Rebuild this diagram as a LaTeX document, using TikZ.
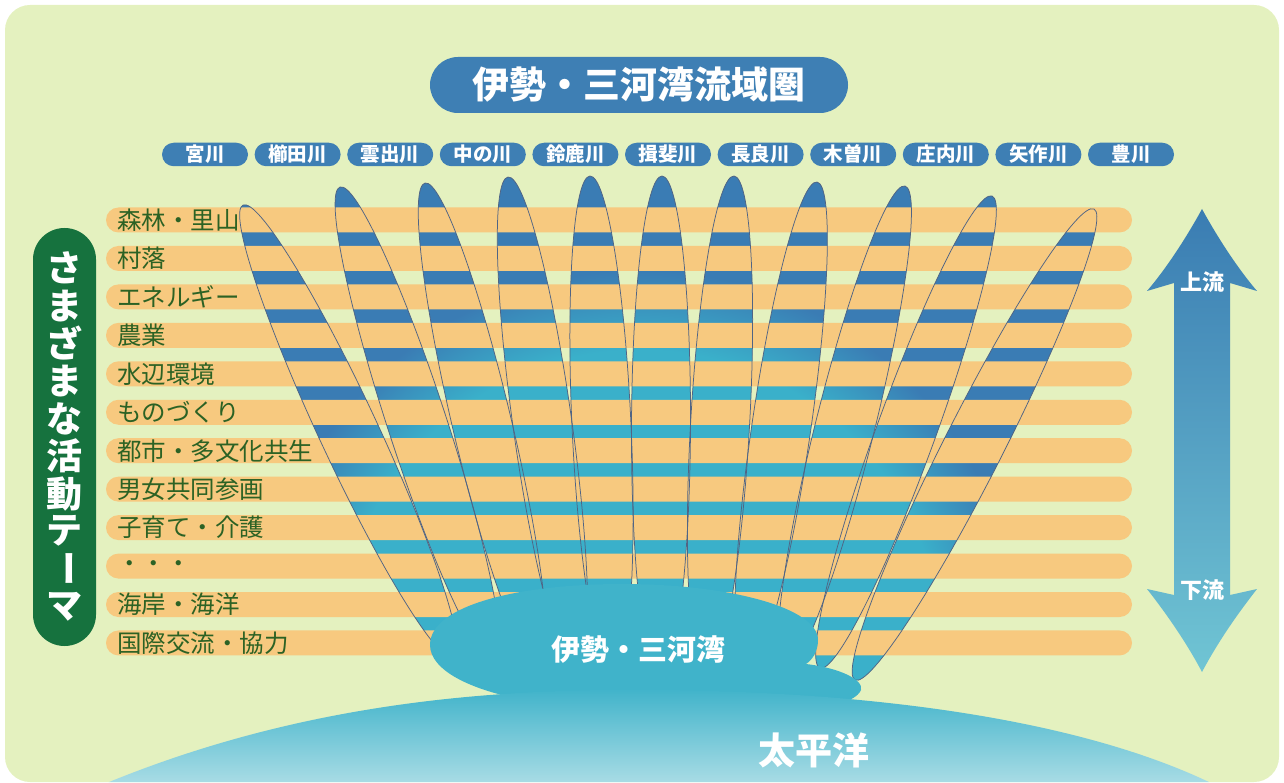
\documentclass[tikz,border=0pt]{standalone}
\usepackage{fontspec}
\setmainfont{Noto Sans CJK JP}
\usetikzlibrary{calc}

\definecolor{bggreen}{RGB}{228,241,191}
\definecolor{bandorange}{RGB}{247,201,127}
\definecolor{pillblue}{RGB}{62,127,180}
\definecolor{leafblue}{RGB}{58,124,180}
\definecolor{leafteal}{RGB}{58,176,202}
\definecolor{leafline}{RGB}{80,100,132}
\definecolor{themegreen}{RGB}{22,114,62}
\definecolor{labelgreen}{RGB}{44,98,36}
\definecolor{bayteal}{RGB}{64,179,202}
\definecolor{seabottom}{RGB}{176,223,231}
\definecolor{arrowtop}{RGB}{58,124,178}
\definecolor{arrowbottom}{RGB}{112,197,212}

\pgfdeclareradialshading{leafshade}{\pgfpoint{0bp}{0bp}}{color(0bp)=(leafteal); color(15bp)=(leafteal); color(19bp)=(leafblue); color(50bp)=(leafblue)}

\newcommand\leaflist{243/205/454/658,340/187/495/662,425/183/540/669,508/177/577/672,590/176/613/675,662/176/660/676,734/176/706/675,817/182/745/677,905/186/784/671,992/196/820/668,1094/209/855/680}

\begin{document}
\begin{tikzpicture}
  [x=1pt,y=-1pt,
   band/.style={fill=bandorange,rounded corners=12.5pt},
   theme/.style={anchor=west,inner sep=0pt,text=labelgreen,font=\fontsize{24.5}{24.5}\selectfont},
   river/.style={fill=pillblue,rounded corners=11.75pt,minimum width=86pt,minimum height=23.5pt,inner sep=0pt,text=white,font=\bfseries\fontsize{19.5}{19.5}\selectfont},
   leaf/.style={draw=leafline,line width=0.75pt},
   white label/.style={inner sep=0pt,text=white,font=\bfseries\fontsize{#1}{#1}\selectfont}]

  \useasboundingbox (0,0) rectangle (1284,783);
  \fill[bggreen,rounded corners=25pt] (5,5) rectangle (1279,782);

  \foreach \tx/\ty/\ex/\ey in \leaflist {
    \pgfmathsetmacro\halflen{veclen(\ex-\tx,\ey-\ty)/2}
    \pgfmathsetmacro\tilt{atan2(\ty-\ey,\ex-\tx)}
    \begin{scope}
      \clip[shift={($(\tx,\ty)!.5!(\ex,\ey)$)},rotate=\tilt] (0,0) ellipse [x radius=\halflen,y radius=29.5];
      \shade[shading=leafshade] (140,150) rectangle (1140,1150);
    \end{scope}
  }

  \foreach \t [count=\i from 0] in {森林・里山,村落,エネルギー,農業,水辺環境,ものづくり,都市・多文化共生,男女共同参画,子育て・介護,・・・,海岸・海洋,国際交流・協力} {
    \pgfmathsetmacro\yy{220+38.45*\i}
    \fill[band] (106,\yy-12.5) rectangle (1132,\yy+12.5);
    \node[theme] (t\i) at (117,\yy) {\t};
  }

  \foreach \tx/\ty/\ex/\ey in \leaflist {
    \pgfmathsetmacro\halflen{veclen(\ex-\tx,\ey-\ty)/2}
    \pgfmathsetmacro\tilt{atan2(\ty-\ey,\ex-\tx)}
    \draw[leaf,shift={($(\tx,\ty)!.5!(\ex,\ey)$)},rotate=\tilt] (0,0) ellipse [x radius=\halflen,y radius=29.5];
  }

  \fill[bayteal] (525,700) .. controls (470,690) and (430,670) .. (430,645) .. controls (430,605) and (520,584) .. (622,584)
    .. controls (730,584) and (818,608) .. (818,640) .. controls (818,652) and (812,660) .. (806,664)
    .. controls (840,668) and (864,680) .. (861,690) .. controls (858,697) and (848,701) .. (838,705) -- cycle;
  \begin{scope}
    \clip[rounded corners=25pt] (5,5) rectangle (1279,782);
    \shade[top color=bayteal,bottom color=seabottom] (90,790) .. controls (300,700) and (500,688) .. (665,690)
      .. controls (900,693) and (1100,725) .. (1225,790) -- cycle;
  \end{scope}
  \node[white label=29] (bay) at (638,650) {伊勢・三河湾};
  \node[white label=37] (ocean) at (814,750) {太平洋};

  \node[fill=themegreen,rounded corners=31.5pt,minimum width=63pt,minimum height=418pt,inner sep=0pt] (themebar) at (64.5,437) {};
  \foreach \c/\r [count=\i from 0] in {さ/0,ま/0,ざ/0,ま/0,な/0,活/0,動/0,テ/0,ー/-90,マ/0}
    \node[white label=36,rotate=\r] (v\i) at (64.5,268+37.6*\i) {\c};

  \foreach \r [count=\i from 0] in {宮川,櫛田川,雲出川,中の川,鈴鹿川,揖斐川,長良川,木曽川,庄内川,矢作川,豊川}
    \node[river] (r\i) at (205+92.6*\i,154.5) {\r};
  \node[fill=pillblue,rounded corners=28pt,minimum width=418pt,minimum height=56pt,white label=37] (area) at (639,85) {伊勢・三河湾流域圏};

  \shade[top color=arrowtop,bottom color=arrowbottom] (1202,209) .. controls (1185,240) and (1165,270) .. (1147,291)
    -- (1174,283) -- (1174,595) -- (1147,589) .. controls (1165,612) and (1185,640) .. (1202,672)
    .. controls (1219,640) and (1239,612) .. (1257,589) -- (1230,595) -- (1230,283) -- (1257,291)
    .. controls (1239,270) and (1219,240) .. (1202,209) -- cycle;
  \node[white label=22] (up) at (1202,282) {上流};
  \node[white label=22] (down) at (1202,590) {下流};

\end{tikzpicture}
\end{document}
